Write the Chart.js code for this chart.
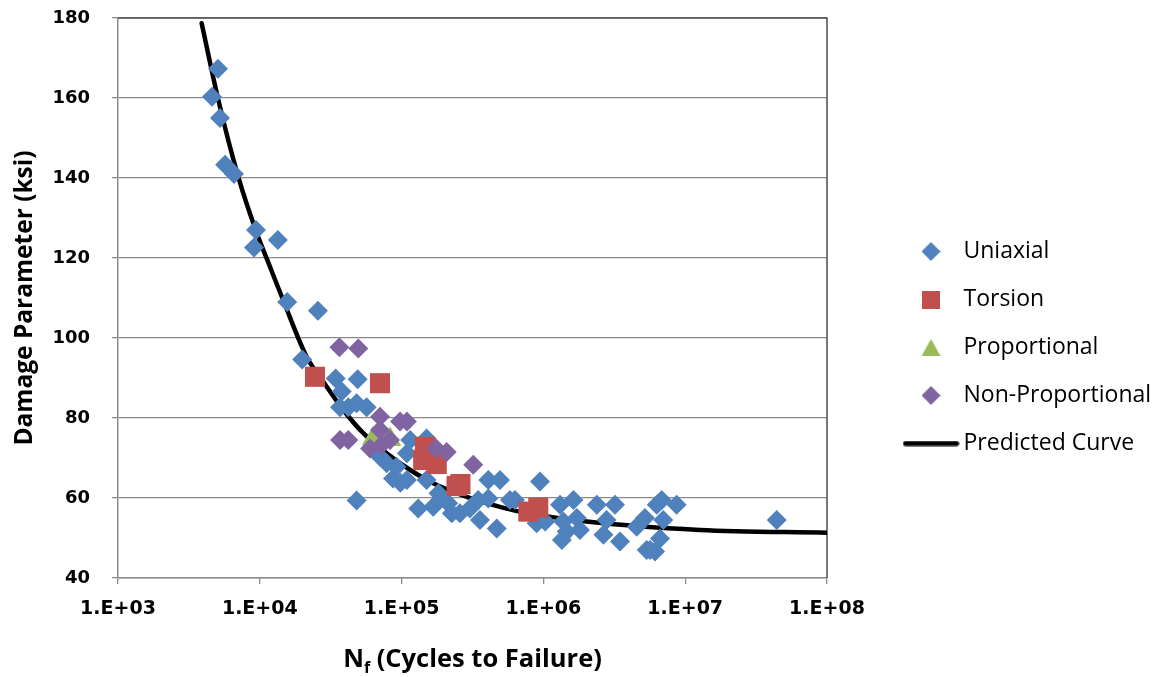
<!DOCTYPE html>
<html>
<head>
<meta charset="utf-8">
<script src="https://cdn.jsdelivr.net/npm/chart.js@4.4.1/dist/chart.umd.min.js"></script>
<style>
html,body{margin:0;padding:0;background:#fff;}
#wrap{position:relative;width:1159px;height:677px;overflow:hidden;}
#c{position:absolute;left:0;top:0;}
#xt{position:absolute;left:0;width:945px;top:645px;text-align:center;font-family:'Open Sans';font-weight:bold;font-size:25.5px;line-height:25px;color:#000;white-space:nowrap;}
#xt sub{font-size:16px;line-height:0;vertical-align:-6px;}
</style>
</head>
<body>
<div id="wrap">
<canvas id="c" width="1159" height="677"></canvas>
<div id="xt">N<sub>f</sub> (Cycles to Failure)</div>
</div>
<script>
// ---- data ----
const SERIES_NAMES = ['Uniaxial', 'Torsion', 'Proportional', 'Non-Proportional', 'Predicted Curve'];

const UNI_N = [5070, 4600, 5240, 5690, 6580, 9400, 9100, 13400, 15600, 25700, 19900, 34300, 49000, 37800, 36800, 42100, 48200, 56700, 48200, 70400, 115000, 150000, 92000, 87000, 109000, 150000, 109000, 78500, 98000, 131000, 167000, 182000, 213000, 226000, 258000, 303000, 347000, 409000, 357000, 469000, 409000, 494000, 581000, 630000, 946000, 896000, 1030000, 1310000, 1630000, 1380000, 1720000, 1810000, 1350000, 1460000, 2380000, 3200000, 2790000, 2650000, 3470000, 4550000, 5200000, 5650000, 6130000, 6640000, 7000000, 6830000, 6300000, 8700000, 5350000, 44200000];
const UNI_V = [167.3, 160.3, 155.0, 143.3, 141.0, 127.0, 122.6, 124.5, 109.0, 106.8, 94.6, 89.9, 89.7, 86.6, 82.7, 82.7, 83.7, 82.7, 59.4, 70.3, 74.5, 74.9, 67.8, 64.9, 64.5, 64.5, 71.2, 68.7, 63.8, 57.4, 57.8, 61.2, 58.7, 56.2, 56.2, 57.4, 59.5, 59.9, 54.5, 52.4, 64.5, 64.5, 59.5, 59.5, 64.1, 53.7, 54.1, 58.3, 59.5, 54.1, 55.0, 52.0, 49.5, 51.6, 58.3, 58.3, 54.5, 50.8, 49.1, 52.8, 55.0, 47.0, 46.6, 49.9, 54.5, 59.5, 58.3, 58.3, 47.0, 54.5];

const TOR_N = [24500, 70400, 146000, 142000, 155000, 177000, 244000, 260000, 783000, 920000];
const TOR_V = [90.3, 88.7, 72.8, 69.5, 70.5, 68.5, 63.0, 63.5, 56.6, 57.6];

const PROP_N = [63000, 83000];
const PROP_V = [74.8, 74.6];

const NONP_N = [36400, 49500, 70400, 97500, 109000, 36800, 42100, 70400, 59900, 72400, 82800, 175000, 208000, 320000];
const NONP_V = [97.7, 97.4, 80.3, 79.1, 79.1, 74.5, 74.5, 77.0, 72.4, 73.3, 74.5, 72.4, 71.5, 68.3];

const CURVE_N = [3890, 5100, 7050, 9510, 11800, 14600, 21400, 28000, 38800, 53700, 78500, 115000, 167000, 288000, 494000, 684000, 2020000, 12700000, 100000000];
const CURVE_V = [178.7, 159.5, 140.3, 126.3, 117.8, 109.5, 95.3, 89.1, 82.0, 76.2, 71.2, 67.0, 63.7, 60.3, 57.8, 56.6, 54.1, 52.0, 51.3];

const X_TICKS = [1e3, 1e4, 1e5, 1e6, 1e7, 1e8];
const X_TICK_LABELS = ['1.E+03', '1.E+04', '1.E+05', '1.E+06', '1.E+07', '1.E+08'];
const Y_TICKS = [40, 60, 80, 100, 120, 140, 160, 180];

// ---- styling ----
const BLUE = '#4F81BD', RED = '#C0504D', GREEN = '#9BBB59', PURPLE = '#8064A2';
const pts = (xs, ys) => xs.map((x, i) => ({x: x, y: ys[i]}));

function icon(w, h, draw) {
  const c = document.createElement('canvas');
  c.width = w; c.height = h;
  draw(c.getContext('2d'), w, h);
  return c;
}
function diamondIcon(color) {
  return icon(19, 19, (g, w, h) => {
    g.fillStyle = color; g.beginPath();
    g.moveTo(w / 2, 0); g.lineTo(w, h / 2); g.lineTo(w / 2, h); g.lineTo(0, h / 2);
    g.closePath(); g.fill();
  });
}
const LEGEND_ICONS = [
  diamondIcon(BLUE),
  icon(18, 18, (g, w, h) => { g.fillStyle = RED; g.fillRect(0, 0, w, h); }),
  icon(19, 17, (g, w, h) => {
    g.fillStyle = GREEN; g.beginPath();
    g.moveTo(w / 2, 0); g.lineTo(w, h); g.lineTo(0, h); g.closePath(); g.fill();
  }),
  diamondIcon(PURPLE),
  icon(57, 6, (g, w, h) => {
    g.strokeStyle = '#000'; g.lineWidth = 5; g.lineCap = 'round';
    g.beginPath(); g.moveTo(3, h / 2); g.lineTo(w - 3, h / 2); g.stroke();
  })
];

const layoutPlugin = {
  id: 'layoutFix',
  beforeUpdate(chart) {
    const lg = chart.legend;
    if (lg && !lg._patched) {
      const fit = lg.fit.bind(lg);
      lg.fit = function () { fit(); this.width = 332; };
      lg._patched = true;
    }
  },
  afterLayout(chart) {
    const lg = chart.legend;
    if (lg) {
      const w = lg.width, h = lg.height;
      lg.left = 885; lg.top = 215;
      lg.right = lg.left + w; lg.bottom = lg.top + h;
    }
  },
  beforeDatasetsDraw(chart) {
    const {ctx, chartArea: a} = chart;
    ctx.save();
    ctx.strokeStyle = '#4d4d4d';
    ctx.lineWidth = 1.5;
    ctx.beginPath();
    ctx.moveTo(a.left, a.top); ctx.lineTo(a.right, a.top); ctx.lineTo(a.right, a.bottom);
    ctx.stroke();
    ctx.restore();
  }
};

new Chart(document.getElementById('c'), {
  type: 'scatter',
  data: {
    datasets: [
      {label: SERIES_NAMES[0], data: pts(UNI_N, UNI_V), pointStyle: 'rectRot', pointRadius: 10,
       backgroundColor: BLUE, borderColor: BLUE, borderWidth: 0, order: 4},
      {label: SERIES_NAMES[1], data: pts(TOR_N, TOR_V), pointStyle: 'rect', pointRadius: 14.2,
       backgroundColor: RED, borderColor: RED, borderWidth: 0, order: 3},
      {label: SERIES_NAMES[2], data: pts(PROP_N, PROP_V), pointStyle: 'triangle', pointRadius: 13,
       backgroundColor: GREEN, borderColor: GREEN, borderWidth: 0, order: 2},
      {label: SERIES_NAMES[3], data: pts(NONP_N, NONP_V), pointStyle: 'rectRot', pointRadius: 10,
       backgroundColor: PURPLE, borderColor: PURPLE, borderWidth: 0, order: 1},
      {label: SERIES_NAMES[4], type: 'line', data: pts(CURVE_N, CURVE_V), showLine: true,
       pointRadius: 0, borderColor: '#000', backgroundColor: '#000', borderWidth: 4.5,
       cubicInterpolationMode: 'monotone', borderCapStyle: 'round', fill: false, order: 5}
    ]
  },
  options: {
    responsive: false,
    animation: false,
    events: [],
    devicePixelRatio: 1,
    layout: {padding: {left: 0, top: 18, right: 0, bottom: 0}},
    plugins: {
      tooltip: {enabled: false},
      legend: {
        position: 'right',
        align: 'start',
        labels: {
          usePointStyle: true,
          pointStyleWidth: 42,
          padding: 25,
          color: '#000',
          font: {family: 'Open Sans', size: 23},
          sort: (a, b) => a.datasetIndex - b.datasetIndex,
          generateLabels: (chart) => {
            const items = Chart.defaults.plugins.legend.labels.generateLabels(chart);
            items.forEach(it => { it.pointStyle = LEGEND_ICONS[it.datasetIndex]; it.rotation = 0; });
            return items;
          }
        }
      }
    },
    scales: {
      x: {
        type: 'logarithmic',
        min: 1e3, max: 1e8,
        afterBuildTicks: (s) => { s.ticks = X_TICKS.map(v => ({value: v})); },
        afterFit: (s) => { s.height = 99; },
        ticks: {
          autoSkip: false, maxRotation: 0,
          callback: (v, i) => X_TICK_LABELS[i],
          font: {family: 'DejaVu Sans', weight: 'bold', size: 19},
          color: '#000', padding: 14
        },
        grid: {drawOnChartArea: false, color: '#8c8c8c', tickLength: 6, lineWidth: 1.3},
        border: {color: '#8c8c8c', width: 1.5}
      },
      y: {
        min: 40, max: 180,
        afterBuildTicks: (s) => { s.ticks = Y_TICKS.map(v => ({value: v})); },
        afterFit: (s) => { s.width = 118; s.paddingTop = 0; s.paddingBottom = 0; },
        ticks: {font: {family: 'DejaVu Sans', weight: 'bold', size: 18}, color: '#000', padding: 22},
        grid: {color: '#8c8c8c', tickLength: 6, lineWidth: 1.3},
        border: {color: '#8c8c8c', width: 1.5},
        title: {
          display: true, text: 'Damage Parameter (ksi)', color: '#000',
          font: {family: 'Open Sans', weight: 'bold', size: 24.5},
          padding: {top: 10, bottom: 0}
        }
      }
    }
  },
  plugins: [layoutPlugin]
});
</script>
</body>
</html>
